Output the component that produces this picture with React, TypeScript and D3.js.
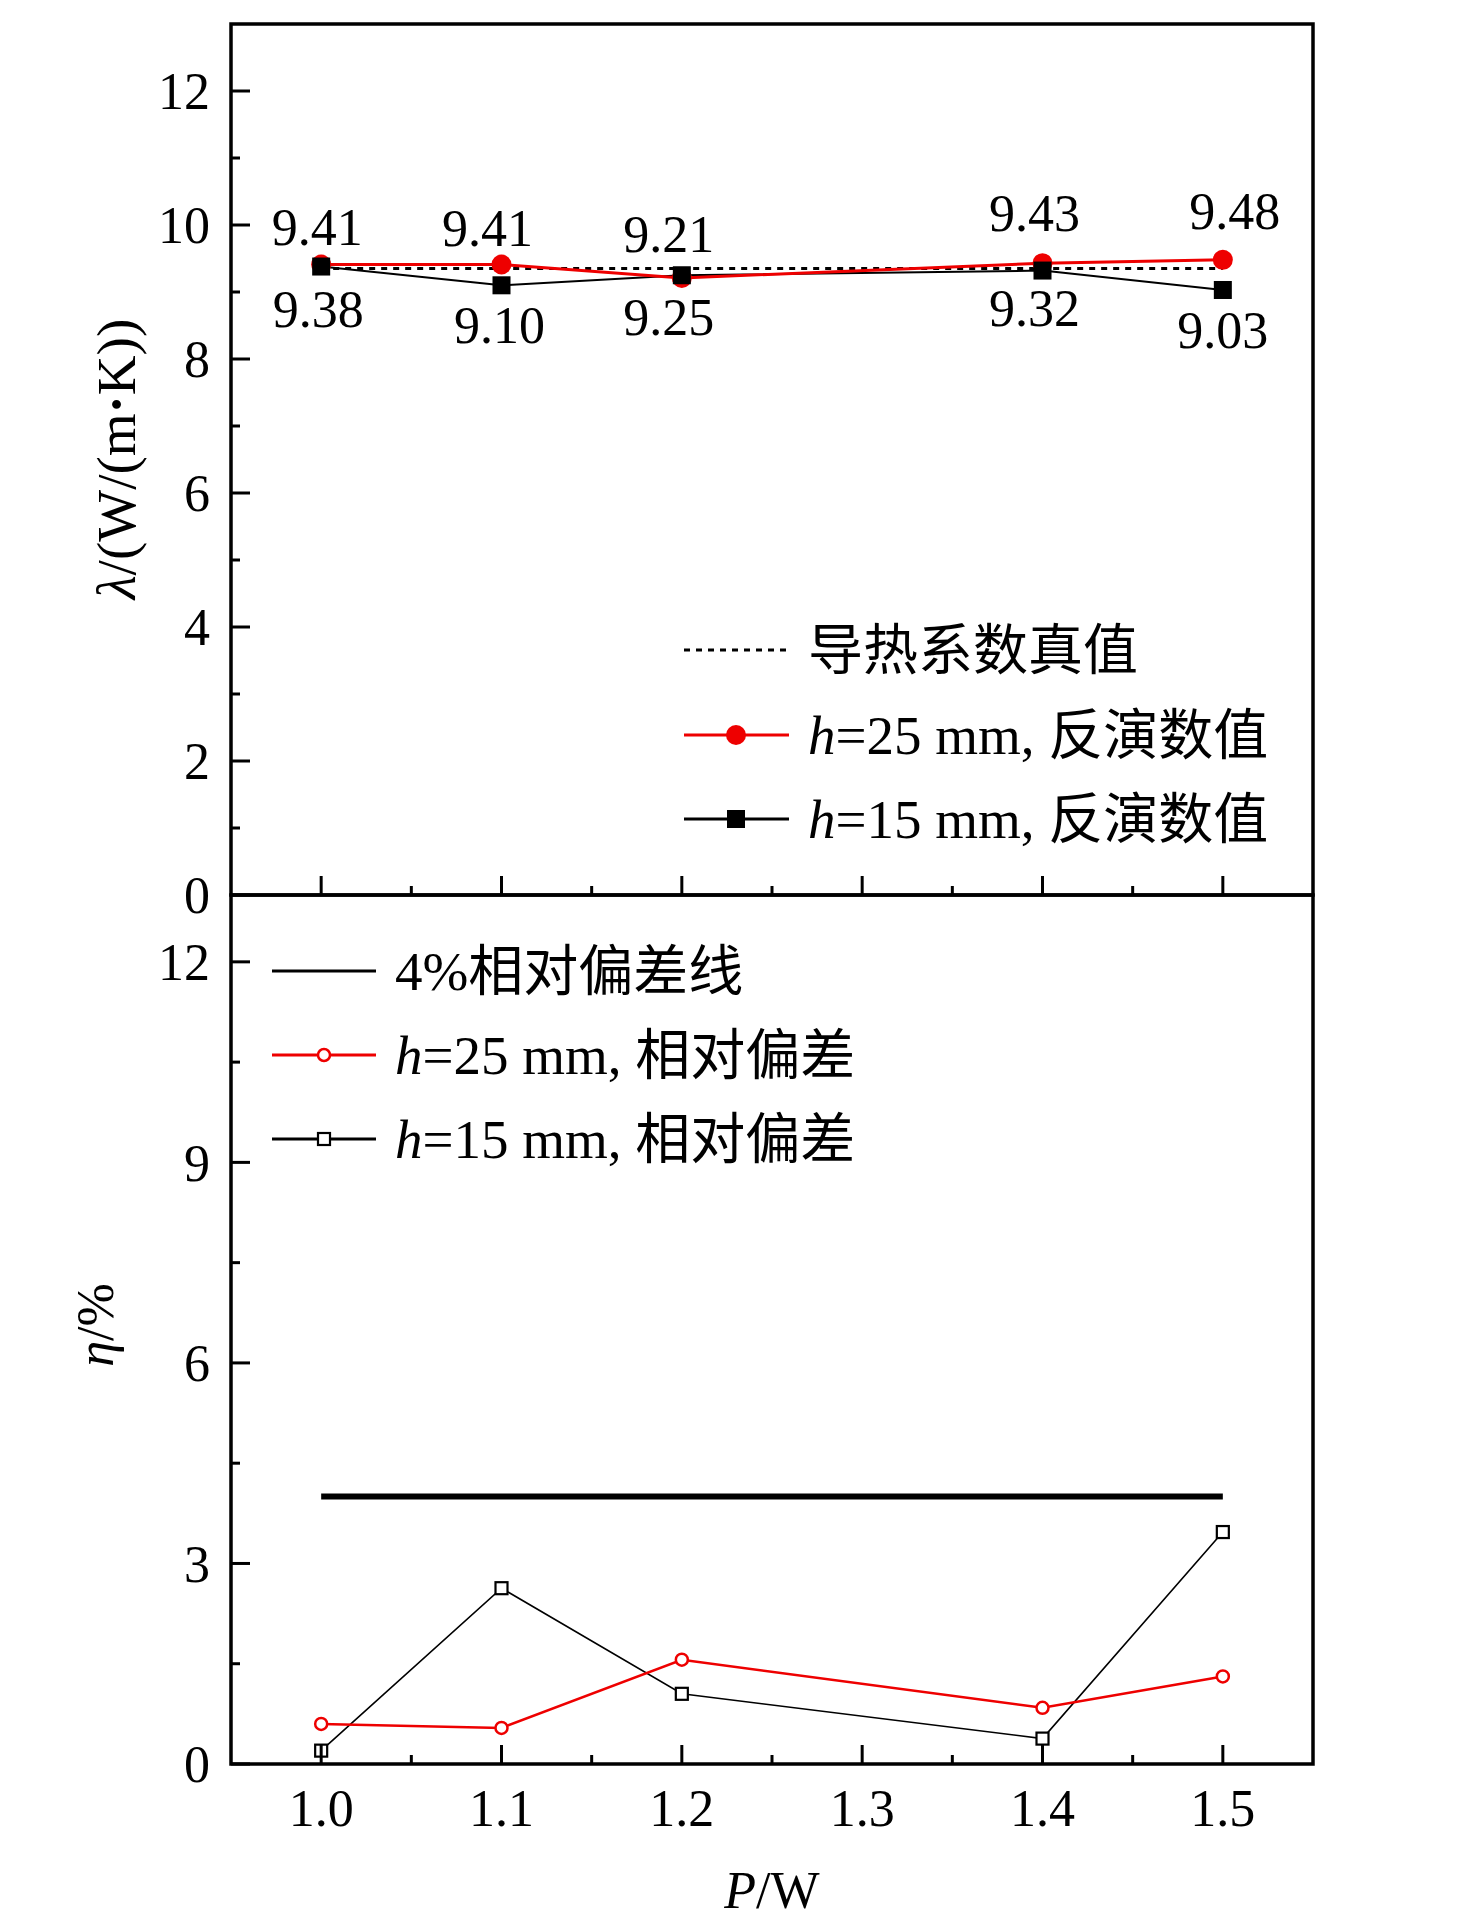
import * as d3 from 'd3';

// x positions (P/W) and the two series for each panel
const P = [1.0, 1.1, 1.2, 1.4, 1.5];
const LAMBDA_25 = [9.41, 9.41, 9.21, 9.43, 9.48];
const LAMBDA_15 = [9.38, 9.1, 9.25, 9.32, 9.03];
const LAMBDA_TRUE = 9.35;
const ETA_25 = [0.6, 0.54, 1.56, 0.84, 1.31];
const ETA_15 = [0.2, 2.63, 1.05, 0.38, 3.47];
const ETA_LIMIT = 4;

const X_TICKS = [1.0, 1.1, 1.2, 1.3, 1.4, 1.5];
const X_MINOR = [1.05, 1.15, 1.25, 1.35, 1.45];
const LAMBDA_TICKS = [0, 2, 4, 6, 8, 10, 12];
const LAMBDA_MINOR = [1, 3, 5, 7, 9, 11];
const ETA_TICKS = [0, 3, 6, 9, 12];
const ETA_MINOR = [1.5, 4.5, 7.5, 10.5];

// hand nudges for the value labels [dx, dy from point]
const NUDGE_25 = [[-4, -20], [-14, -19], [-13, -26], [-8, -32], [12, -31]];
const NUDGE_15 = [[-3, 60], [-2, 58], [-13, 60], [-8, 55], [0, 58]];

const SERIF = "'Liberation Serif', 'Times New Roman', 'Noto Sans CJK SC', serif";
const RED = '#ee0000';

export default function App() {
  const W = 1476, H = 1923;
  const L = 231, R = 1313, T = 24, MID = 895, B = 1764;

  const x = d3.scaleLinear().domain([0.95, 1.55]).range([L, R]);
  const yT = d3.scaleLinear().domain([0, 13]).range([MID, T]);
  const yB = d3.scaleLinear().domain([0, 13]).range([B, MID]);

  const lineT = (vals: number[]) =>
    d3.line<number>().x((_, i) => x(P[i])).y(v => yT(v))(vals) || '';
  const lineB = (vals: number[]) =>
    d3.line<number>().x((_, i) => x(P[i])).y(v => yB(v))(vals) || '';

  const tick = 19, minor = 9;

  return (
    <svg width={W} height={H} viewBox={`0 0 ${W} ${H}`}
      style={{ position: 'absolute', left: 0, top: 0, background: '#fff' }}
      fontFamily={SERIF}>
      {/* ---------- top panel ---------- */}
      <line x1={x(1.0)} x2={x(1.5)} y1={yT(LAMBDA_TRUE)} y2={yT(LAMBDA_TRUE)}
        stroke="#000" strokeWidth={3} strokeDasharray="6,6" />
      <path d={lineT(LAMBDA_15)} fill="none" stroke="#000" strokeWidth={2} />
      <path d={lineT(LAMBDA_25)} fill="none" stroke={RED} strokeWidth={3} />
      {LAMBDA_25.map((v, i) => (
        <circle key={'r' + i} cx={x(P[i])} cy={yT(v)} r={10} fill={RED} />
      ))}
      {LAMBDA_15.map((v, i) => (
        <rect key={'b' + i} x={x(P[i]) - 9} y={yT(v) - 9} width={18} height={18} fill="#000" />
      ))}
      {LAMBDA_25.map((v, i) => (
        <text key={'lr' + i} x={x(P[i]) + NUDGE_25[i][0]} y={yT(v) + NUDGE_25[i][1]}
          fontSize={52} textAnchor="middle">{v.toFixed(2)}</text>
      ))}
      {LAMBDA_15.map((v, i) => (
        <text key={'lb' + i} x={x(P[i]) + NUDGE_15[i][0]} y={yT(v) + NUDGE_15[i][1]}
          fontSize={52} textAnchor="middle">{v.toFixed(2)}</text>
      ))}

      {/* top axes */}
      {LAMBDA_TICKS.map(t => (
        <g key={'yt' + t}>
          <line x1={L} x2={L + tick} y1={yT(t)} y2={yT(t)} stroke="#000" strokeWidth={3} />
          <text x={L - 21} y={yT(t)} dy="0.35em" fontSize={52} textAnchor="end">{t}</text>
        </g>
      ))}
      {LAMBDA_MINOR.map(t => (
        <line key={'ytm' + t} x1={L} x2={L + minor} y1={yT(t)} y2={yT(t)} stroke="#000" strokeWidth={3} />
      ))}
      {X_TICKS.map(t => (
        <line key={'xtt' + t} x1={x(t)} x2={x(t)} y1={MID} y2={MID - tick} stroke="#000" strokeWidth={3} />
      ))}
      {X_MINOR.map(t => (
        <line key={'xtm' + t} x1={x(t)} x2={x(t)} y1={MID} y2={MID - minor} stroke="#000" strokeWidth={3} />
      ))}
      <text transform={`translate(135,459) rotate(-90)`} fontSize={55} textAnchor="middle">
        <tspan fontStyle="italic">λ</tspan>/(W/(m<tspan fontWeight="bold">·</tspan>K))
      </text>

      {/* top legend */}
      <g>
        <line x1={684} x2={789} y1={650} y2={650} stroke="#000" strokeWidth={3} strokeDasharray="6,6" />
        <text x={808} y={669} fontSize={55}>导热系数真值</text>
        <line x1={684} x2={789} y1={735} y2={735} stroke={RED} strokeWidth={3} />
        <circle cx={736} cy={735} r={10} fill={RED} />
        <text x={808} y={754} fontSize={55}><tspan fontStyle="italic">h</tspan>=25 mm, 反演数值</text>
        <line x1={684} x2={789} y1={819} y2={819} stroke="#000" strokeWidth={3} />
        <rect x={727} y={810} width={18} height={18} fill="#000" />
        <text x={808} y={838} fontSize={55}><tspan fontStyle="italic">h</tspan>=15 mm, 反演数值</text>
      </g>

      {/* ---------- bottom panel ---------- */}
      <line x1={x(1.0)} x2={x(1.5)} y1={yB(ETA_LIMIT)} y2={yB(ETA_LIMIT)} stroke="#000" strokeWidth={6} />
      <path d={lineB(ETA_15)} fill="none" stroke="#000" strokeWidth={1.6} />
      <path d={lineB(ETA_25)} fill="none" stroke={RED} strokeWidth={2.5} />
      {ETA_25.map((v, i) => (
        <circle key={'er' + i} cx={x(P[i])} cy={yB(v)} r={6} fill="#fff" stroke={RED} strokeWidth={2.5} />
      ))}
      {ETA_15.map((v, i) => (
        <rect key={'eb' + i} x={x(P[i]) - 6} y={yB(v) - 6} width={12} height={12}
          fill="#fff" stroke="#000" strokeWidth={2.2} />
      ))}

      {ETA_TICKS.map(t => (
        <g key={'yb' + t}>
          <line x1={L} x2={L + tick} y1={yB(t)} y2={yB(t)} stroke="#000" strokeWidth={3} />
          <text x={L - 21} y={yB(t)} dy="0.35em" fontSize={52} textAnchor="end">{t}</text>
        </g>
      ))}
      {ETA_MINOR.map(t => (
        <line key={'ybm' + t} x1={L} x2={L + minor} y1={yB(t)} y2={yB(t)} stroke="#000" strokeWidth={3} />
      ))}
      {X_TICKS.map(t => (
        <g key={'xb' + t}>
          <line x1={x(t)} x2={x(t)} y1={B} y2={B - tick} stroke="#000" strokeWidth={3} />
          <text x={x(t)} y={B + 62} fontSize={52} textAnchor="middle">{t.toFixed(1)}</text>
        </g>
      ))}
      {X_MINOR.map(t => (
        <line key={'xbm' + t} x1={x(t)} x2={x(t)} y1={B} y2={B - minor} stroke="#000" strokeWidth={3} />
      ))}
      <text transform={`translate(113,1325) rotate(-90)`} fontSize={52} textAnchor="middle">
        <tspan fontStyle="italic">η</tspan>/%
      </text>
      <text x={(L + R) / 2} y={1908} fontSize={52} textAnchor="middle">
        <tspan fontStyle="italic">P</tspan>/W
      </text>

      {/* bottom legend */}
      <g>
        <line x1={272} x2={376} y1={971} y2={971} stroke="#000" strokeWidth={3} />
        <text x={395} y={990} fontSize={55}>4%相对偏差线</text>
        <line x1={272} x2={376} y1={1055} y2={1055} stroke={RED} strokeWidth={3} />
        <circle cx={324} cy={1055} r={6} fill="#fff" stroke={RED} strokeWidth={2.5} />
        <text x={395} y={1074} fontSize={55}><tspan fontStyle="italic">h</tspan>=25 mm, 相对偏差</text>
        <line x1={272} x2={376} y1={1139} y2={1139} stroke="#000" strokeWidth={3} />
        <rect x={318} y={1133} width={12} height={12} fill="#fff" stroke="#000" strokeWidth={2.2} />
        <text x={395} y={1158} fontSize={55}><tspan fontStyle="italic">h</tspan>=15 mm, 相对偏差</text>
      </g>

      {/* frames */}
      <rect x={L} y={T} width={R - L} height={MID - T} fill="none" stroke="#000" strokeWidth={3.5} />
      <rect x={L} y={MID} width={R - L} height={B - MID} fill="none" stroke="#000" strokeWidth={3.5} />
    </svg>
  );
}
